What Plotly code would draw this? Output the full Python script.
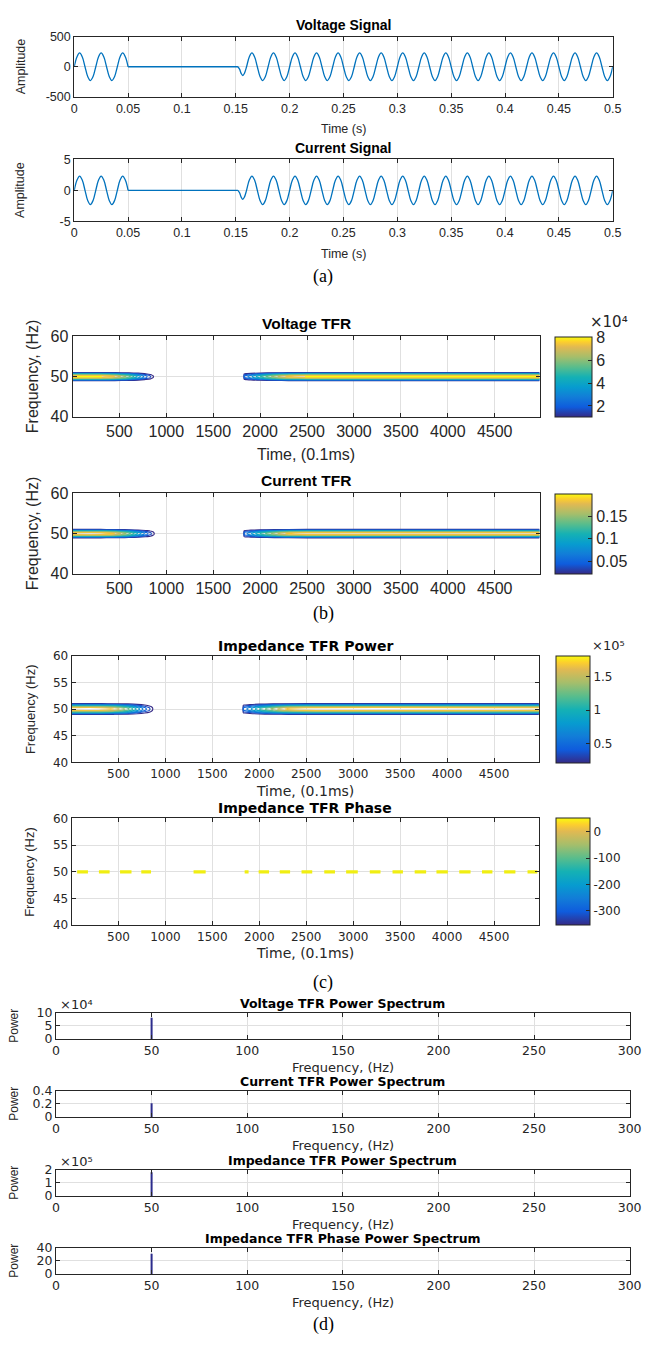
import plotly.graph_objects as go

W, H = 654, 1345

# ---------------- (a) time-domain signals (time in ms, eighth-period samples) ----------------
sig_t_on1 = [0, 2.5, 5, 7.5, 10, 12.5, 15, 17.5, 20, 22.5, 25, 27.5, 30, 32.5, 35, 37.5,
             40, 42.5, 45, 47.5, 50]
volt_on1 = [0, 163, 230, 163, 0, -163, -230, -163, 0, 163, 230, 163, 0, -163, -230, -163,
            0, 163, 230, 163, 0]
curr_on1 = [0, 1.63, 2.3, 1.63, 0, -1.63, -2.3, -1.63, 0, 1.63, 2.3, 1.63, 0, -1.63, -2.3, -1.63,
            0, 1.63, 2.3, 1.63, 0]
sig_t_off = [50, 152]
volt_off = [0, 0]
curr_off = [0, 0]
sig_t_on2 = [152, 153.5, 155, 156.5, 158,
             160, 162.5, 165, 167.5, 170, 172.5, 175, 177.5,
             180, 182.5, 185, 187.5, 190, 192.5, 195, 197.5,
             200, 202.5, 205, 207.5, 210, 212.5, 215, 217.5,
             220, 222.5, 225, 227.5, 230, 232.5, 235, 237.5,
             240, 242.5, 245, 247.5, 250, 252.5, 255, 257.5,
             260, 262.5, 265, 267.5, 270, 272.5, 275, 277.5,
             280, 282.5, 285, 287.5, 290, 292.5, 295, 297.5,
             300, 302.5, 305, 307.5, 310, 312.5, 315, 317.5,
             320, 322.5, 325, 327.5, 330, 332.5, 335, 337.5,
             340, 342.5, 345, 347.5, 350, 352.5, 355, 357.5,
             360, 362.5, 365, 367.5, 370, 372.5, 375, 377.5,
             380, 382.5, 385, 387.5, 390, 392.5, 395, 397.5,
             400, 402.5, 405, 407.5, 410, 412.5, 415, 417.5,
             420, 422.5, 425, 427.5, 430, 432.5, 435, 437.5,
             440, 442.5, 445, 447.5, 450, 452.5, 455, 457.5,
             460, 462.5, 465, 467.5, 470, 472.5, 475, 477.5,
             480, 482.5, 485, 487.5, 490, 492.5, 495, 497.5,
             500]
volt_on2 = [0, -40, -110, -145, -110,
            0, 163, 230, 163, 0, -163, -230, -163,
            0, 163, 230, 163, 0, -163, -230, -163,
            0, 163, 230, 163, 0, -163, -230, -163,
            0, 163, 230, 163, 0, -163, -230, -163,
            0, 163, 230, 163, 0, -163, -230, -163,
            0, 163, 230, 163, 0, -163, -230, -163,
            0, 163, 230, 163, 0, -163, -230, -163,
            0, 163, 230, 163, 0, -163, -230, -163,
            0, 163, 230, 163, 0, -163, -230, -163,
            0, 163, 230, 163, 0, -163, -230, -163,
            0, 163, 230, 163, 0, -163, -230, -163,
            0, 163, 230, 163, 0, -163, -230, -163,
            0, 163, 230, 163, 0, -163, -230, -163,
            0, 163, 230, 163, 0, -163, -230, -163,
            0, 163, 230, 163, 0, -163, -230, -163,
            0, 163, 230, 163, 0, -163, -230, -163,
            0, 163, 230, 163, 0, -163, -230, -163,
            0]
curr_on2 = [0, -0.4, -1.1, -1.45, -1.1,
            0, 1.63, 2.3, 1.63, 0, -1.63, -2.3, -1.63,
            0, 1.63, 2.3, 1.63, 0, -1.63, -2.3, -1.63,
            0, 1.63, 2.3, 1.63, 0, -1.63, -2.3, -1.63,
            0, 1.63, 2.3, 1.63, 0, -1.63, -2.3, -1.63,
            0, 1.63, 2.3, 1.63, 0, -1.63, -2.3, -1.63,
            0, 1.63, 2.3, 1.63, 0, -1.63, -2.3, -1.63,
            0, 1.63, 2.3, 1.63, 0, -1.63, -2.3, -1.63,
            0, 1.63, 2.3, 1.63, 0, -1.63, -2.3, -1.63,
            0, 1.63, 2.3, 1.63, 0, -1.63, -2.3, -1.63,
            0, 1.63, 2.3, 1.63, 0, -1.63, -2.3, -1.63,
            0, 1.63, 2.3, 1.63, 0, -1.63, -2.3, -1.63,
            0, 1.63, 2.3, 1.63, 0, -1.63, -2.3, -1.63,
            0, 1.63, 2.3, 1.63, 0, -1.63, -2.3, -1.63,
            0, 1.63, 2.3, 1.63, 0, -1.63, -2.3, -1.63,
            0, 1.63, 2.3, 1.63, 0, -1.63, -2.3, -1.63,
            0, 1.63, 2.3, 1.63, 0, -1.63, -2.3, -1.63,
            0, 1.63, 2.3, 1.63, 0, -1.63, -2.3, -1.63,
            0]
sig_xticks = [0, 0.05, 0.1, 0.15, 0.2, 0.25, 0.3, 0.35, 0.4, 0.45, 0.5]
sig_xlabels = ["0", "0.05", "0.1", "0.15", "0.2", "0.25", "0.3", "0.35", "0.4", "0.45", "0.5"]

# ---------------- (b),(c) time-frequency representations ----------------
tfr_freq = [48.5, 48.75, 49.0, 49.25, 49.5, 49.75, 50.0, 50.25, 50.5, 50.75, 51.0, 51.25, 51.5]
tfr_profile = [0.0, 0.03, 0.13, 0.38, 0.66, 0.92, 1.0, 0.92, 0.66, 0.38, 0.13, 0.03, 0.0]
tfr_time = [1, 300, 450, 600, 700, 780, 830, 875, 905, 1800, 1825, 1830, 1900, 2000, 2150, 2300, 2500, 4978]
tfr_env = [1.0, 1.0, 0.92, 0.72, 0.5, 0.32, 0.22, 0.1, 0.0, 0.0, 0.0, 0.3, 0.42, 0.6, 0.8, 0.95, 1.0, 1.0]
volt_tfr_peak = 8.1e4
curr_tfr_peak = 0.2
imp_tfr_peak = 1.81e5
volt_tfr_clim = [1.07e4, 8.06e4]
curr_tfr_clim = [0.022, 0.2]
imp_tfr_clim = [0.225e5, 1.81e5]
phase_clim = [-354, 50]
tfr_xticks = [500, 1000, 1500, 2000, 2500, 3000, 3500, 4000, 4500]

# impedance phase: dash fragments at 50 Hz (start / end time, 0.1 ms)
phase_freq = 50
phase_t0 = [60, 292, 517, 743, 1300, 1844, 1993, 2218, 2450, 2692, 2925, 3177, 3419, 3655, 3887, 4130, 4372, 4608, 4857]
phase_t1 = [175, 406, 639, 847, 1429, 1886, 2104, 2328, 2564, 2806, 3049, 3291, 3530, 3777, 4008, 4250, 4483, 4728, 4961]

# ---------------- (d) power spectra ----------------
spec_freq = [50, 50]
volt_spec = [0, 8.1e4]
curr_spec = [0, 0.21]
imp_spec = [0, 1.82e5]
phase_spec = [0, 31]
spec_xticks = [0, 50, 100, 150, 200, 250, 300]

PARULA = [
    [0.0, "rgb(53,42,135)"], [0.125, "rgb(15,92,221)"], [0.25, "rgb(18,125,216)"],
    [0.375, "rgb(7,156,207)"], [0.5, "rgb(21,177,180)"], [0.625, "rgb(89,189,140)"],
    [0.75, "rgb(165,190,107)"], [0.875, "rgb(225,185,82)"], [0.9375, "rgb(252,206,46)"],
    [1.0, "rgb(249,251,14)"],
]

FA = "Liberation Sans, Arial, sans-serif"
FD = "DejaVu Sans, sans-serif"
FS = "Liberation Serif, Times New Roman, serif"
TXT = "#262626"

fig = go.Figure()
layout = dict(width=W, height=H, margin=dict(l=0, r=0, t=0, b=0), autosize=False,
              paper_bgcolor="white", plot_bgcolor="white", showlegend=False)
annotations = []


def px_dom_x(x0, x1):
    return [x0 / W, x1 / W]


def px_dom_y(y0, y1):
    return [1 - y1 / H, 1 - y0 / H]


def axis_common(font):
    return dict(showline=True, linecolor=TXT, linewidth=1, mirror="ticks", ticks="inside",
                ticklen=4, tickcolor=TXT, tickwidth=1, showgrid=True, gridcolor="#E0E0E0",
                gridwidth=1, zeroline=False, tickfont=font, fixedrange=True)


def add_axes(i, box, xr, yr, xt, xtt, yt, ytt, font):
    x0, x1, y0, y1 = box
    sfx = "" if i == 1 else str(i)
    xa = axis_common(font)
    xa.update(domain=px_dom_x(x0, x1), range=xr, tickvals=xt, ticktext=xtt, anchor="y" + sfx)
    ya = axis_common(font)
    ya.update(domain=px_dom_y(y0, y1), range=yr, tickvals=yt, ticktext=ytt, anchor="x" + sfx)
    layout["xaxis" + sfx] = xa
    layout["yaxis" + sfx] = ya
    return "x" + sfx, "y" + sfx


def text(x, y, s, size, family=FA, bold=False, angle=0, color="black", xanchor="center"):
    annotations.append(dict(x=x / W, y=1 - y / H, xref="paper", yref="paper",
                            text=("<b>%s</b>" % s) if bold else s,
                            showarrow=False, font=dict(size=size, family=family, color=color),
                            textangle=angle, xanchor=xanchor, yanchor="middle"))


def colorbar_trace(xa, ya, clim, box, tvals, ttext, font):
    x0, x1, y0, y1 = box
    fig.add_trace(go.Scatter(
        x=[-1e6, -1e6], y=[-1e6, -1e6], xaxis=xa, yaxis=ya, mode="markers", hoverinfo="skip",
        marker=dict(size=1, opacity=0, color=clim, cmin=clim[0], cmax=clim[1], colorscale=PARULA,
                    showscale=True,
                    colorbar=dict(x=x0 / W, xanchor="left", thickness=x1 - x0, thicknessmode="pixels",
                                  len=(y1 - y0) / H, lenmode="fraction", y=1 - (y0 + y1) / 2 / H,
                                  yanchor="middle", xpad=0, ypad=0, outlinewidth=1, outlinecolor=TXT,
                                  ticks="inside", ticklen=4, tickcolor=TXT, tickvals=tvals, ticktext=ttext,
                                  tickfont=font))))


# ---------- (a) ----------
fa_sig = dict(family=FA, size=12.5, color=TXT)
sig_boxes = [(72, 624, 29, 90), (72, 624, 153.3, 216)]
sig_data = [(volt_on1, volt_off, volt_on2, [-500, 500], [-500, 0, 500], ["-500", "0", "500"], "Voltage Signal"),
            (curr_on1, curr_off, curr_on2, [-5, 5], [-5, 0, 5], ["-5", "0", "5"], "Current Signal")]
for k, (box, d) in enumerate(zip(sig_boxes, sig_data)):
    on1, off, on2, yr, yt, ytt, title = d
    xa, ya = add_axes(k + 1, box, [0, 0.5], yr, sig_xticks, sig_xlabels, yt, ytt, fa_sig)
    xs = ([t / 1000 for t in sig_t_on1] + [None] + [t / 1000 for t in sig_t_off] + [None]
          + [t / 1000 for t in sig_t_on2])
    ys = list(on1) + [None] + list(off) + [None] + list(on2)
    fig.add_trace(go.Scatter(x=xs, y=ys, xaxis=xa, yaxis=ya, mode="lines", hoverinfo="skip",
                             line=dict(color="#0072BD", width=1.3, shape="spline", smoothing=1)))
    x0, x1, y0, y1 = box
    text((x0 + x1) / 2, y0 - 12, title, 14, bold=True)
    text((x0 + x1) / 2, y1 + 33, "Time (s)", 12.5, color=TXT)
    text(17, (y0 + y1) / 2, "Amplitude", 12.5, angle=-90, color=TXT)
text(327, 272, "(a)", 18, family=FS)

# ---------- (b) & (c) TFR ----------
fa_tfr = dict(family=FA, size=16, color=TXT)
fd_tfr = dict(family=FD, size=12, color=TXT)
tfr_panels = [
    (3, (70.3, 549, 332.7, 414), (565, 601.7), volt_tfr_peak, volt_tfr_clim, fa_tfr,
     [40, 50, 60], [2e4, 4e4, 6e4, 8e4], ["2", "4", "6", "8"]),
    (4, (70.3, 549, 491.7, 573), (565, 601.7), curr_tfr_peak, curr_tfr_clim, fa_tfr,
     [40, 50, 60], [0.05, 0.1, 0.15], ["0.05", "0.1", "0.15"]),
    (5, (69.3, 548.3, 656, 764), (566, 600), imp_tfr_peak, imp_tfr_clim, fd_tfr,
     [40, 45, 50, 55, 60], [0.5e5, 1e5, 1.5e5], ["0.5", "1", "1.5"]),
]
for i, box, cbx, peak, clim, font, yt, cbv, cbt in tfr_panels:
    xa, ya = add_axes(i, box, [1, 4978], [40, 60], tfr_xticks, [str(v) for v in tfr_xticks],
                      yt, [str(v) for v in yt], font)
    z = [[p * e * peak for e in tfr_env] for p in tfr_profile]
    nlev = 12
    fig.add_trace(go.Contour(x=tfr_time, y=tfr_freq, z=z, xaxis=xa, yaxis=ya, colorscale=PARULA,
                             zmin=clim[0], zmax=clim[1], showscale=False, hoverinfo="skip",
                             contours=dict(coloring="lines", start=clim[0], end=clim[1],
                                           size=(clim[1] - clim[0]) / (nlev - 1)),
                             line=dict(width=1.1, smoothing=0.8)))
    x0, x1, y0, y1 = box
    colorbar_trace(xa, ya, clim, (cbx[0], cbx[1], y0, y1), cbv, cbt, font)

x0, x1, y0, y1 = tfr_panels[0][1]
text((x0 + x1) / 2, 320, "Voltage TFR", 15.5, bold=True)
text((x0 + x1) / 2, 452, "Time, (0.1ms)", 16, color=TXT)
text(29.3, (y0 + y1) / 2, "Frequency, (Hz)", 16, angle=-90, color=TXT)
text(620, 318, "×10⁴", 15, family=FD, color=TXT)
x0, x1, y0, y1 = tfr_panels[1][1]
text((x0 + x1) / 2, 479, "Current TFR", 15.5, bold=True)
text(29.3, (y0 + y1) / 2, "Frequency, (Hz)", 16, angle=-90, color=TXT)
text(327, 613, "(b)", 18, family=FS)

x0, x1, y0, y1 = tfr_panels[2][1]
text((x0 + x1) / 2, 646, "Impedance TFR Power", 14, family=FD, bold=True)
text((x0 + x1) / 2, 793, "Time, (0.1ms)", 14, family=FD, color=TXT)
text(26.7, (y0 + y1) / 2, "Frequency (Hz)", 13, angle=-90, color=TXT)
text(620, 646, "×10⁵", 13, family=FD, color=TXT)

# phase panel
pbox = (69.3, 548.3, 820.7, 929)
xa, ya = add_axes(6, pbox, [1, 4978], [40, 60], tfr_xticks, [str(v) for v in tfr_xticks],
                  [40, 45, 50, 55, 60], ["40", "45", "50", "55", "60"], fd_tfr)
px_, py_ = [], []
for a, b in zip(phase_t0, phase_t1):
    px_ += [a, b, None]
    py_ += [phase_freq, phase_freq, None]
fig.add_trace(go.Scatter(x=px_, y=py_, xaxis=xa, yaxis=ya, mode="lines", hoverinfo="skip",
                         line=dict(color="rgb(240,238,18)", width=3.2)))
colorbar_trace(xa, ya, phase_clim, (566, 600, 820.7, 929), [-300, -200, -100, 0],
               ["-300", "-200", "-100", "0"], fd_tfr)
x0, x1, y0, y1 = pbox
text((x0 + x1) / 2, 810, "Impedance TFR Phase", 14, family=FD, bold=True)
text((x0 + x1) / 2, 957, "Time, (0.1ms)", 14, family=FD, color=TXT)
text(26.7, (y0 + y1) / 2, "Frequency (Hz)", 13, angle=-90, color=TXT)
text(327, 987, "(c)", 18, family=FS)

# ---------- (d) spectra ----------
fd_spec = dict(family=FD, size=12.5, color=TXT)
spec_panels = [
    (7, 1017.7, volt_spec, [0, 1e5], [0, 5e4, 1e5], ["0", "5", "10"], "Voltage TFR Power Spectrum", "⁴"),
    (8, 1096.7, curr_spec, [0, 0.4], [0, 0.2, 0.4], ["0", "0.2", "0.4"], "Current TFR Power Spectrum", None),
    (9, 1176.7, imp_spec, [0, 2e5], [0, 1e5, 2e5], ["0", "1", "2"], "Impedance TFR Power Spectrum", "⁵"),
    (10, 1255.7, phase_spec, [0, 40], [0, 20, 40], ["0", "20", "40"], "Impedance TFR Phase Power Spectrum", None),
]
for i, top, vals, yr, yt, ytt, title, expo in spec_panels:
    box = (53.3, 641.3, top, top + 26.6)
    xa, ya = add_axes(i, box, [0, 300], yr, spec_xticks, [str(v) for v in spec_xticks], yt, ytt, fd_spec)
    fig.add_trace(go.Scatter(x=spec_freq, y=vals, xaxis=xa, yaxis=ya, mode="lines", hoverinfo="skip",
                             line=dict(color="rgb(44,44,140)", width=2)))
    x0, x1, y0, y1 = box
    text((x0 + x1) / 2, y0 - 9, title, 12.5, family=FD, bold=True)
    text((x0 + x1) / 2, y1 + 29, "Frequency, (Hz)", 13, family=FD, color=TXT)
    text(10, (y0 + y1) / 2, "Power", 12, angle=-90, color=TXT)
    if expo:
        text(55, y0 - 8, "×10" + expo, 13, family=FD, color=TXT, xanchor="left")
text(327, 1333, "(d)", 18, family=FS)

layout["annotations"] = annotations
fig.update_layout(**layout)
fig.write_html("out.html")
